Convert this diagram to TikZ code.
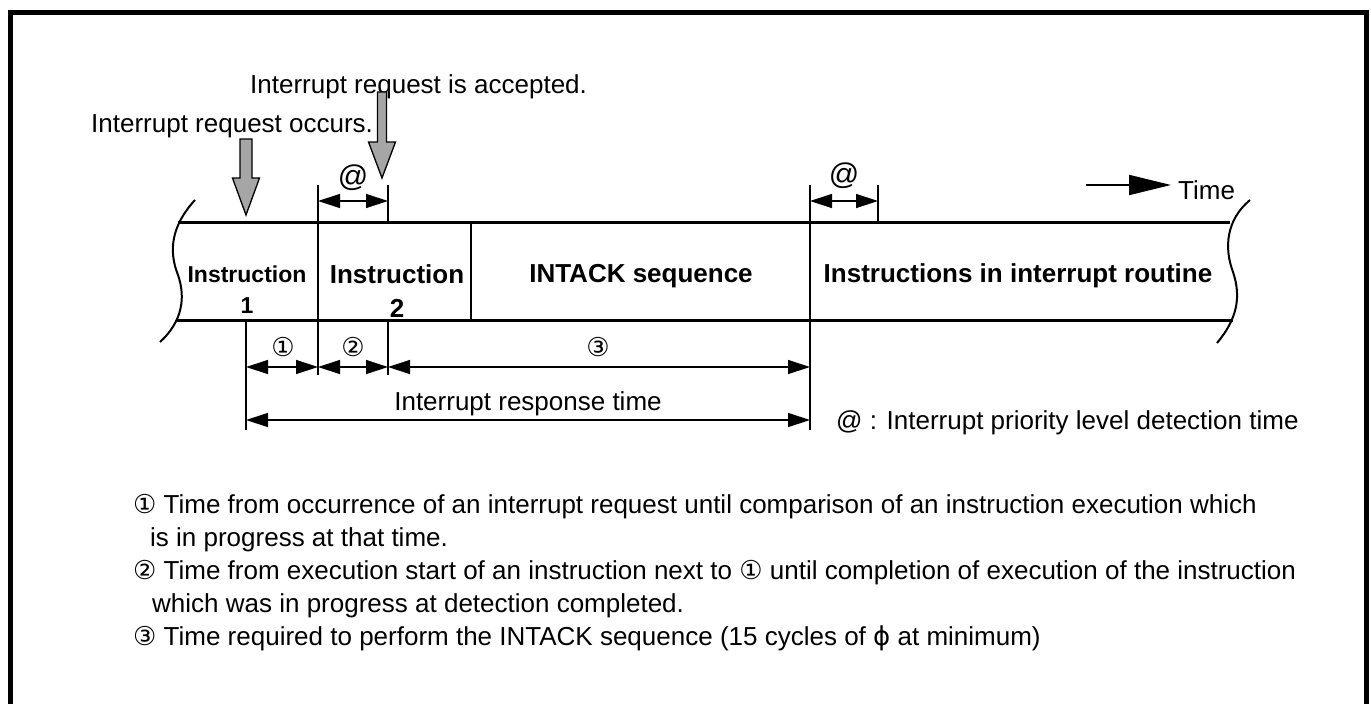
\documentclass[tikz,border=0pt]{standalone}
\usepackage{fontspec}
\setmainfont{Liberation Sans}
\newfontfamily\symfont{DejaVu Sans}
\usetikzlibrary{arrows.meta,positioning,calc}

\newcommand{\cnum}[1]{{\symfont\fontsize{26}{26}\selectfont #1}}

\begin{document}
\begin{tikzpicture}[x=1pt, y=-1pt,
  every node/.style={font=\fontsize{26}{33}\selectfont, inner sep=0pt},
  band/.style ={line width=3pt},
  sep/.style  ={line width=2pt},
  ext/.style  ={line width=1.3pt},
  wave/.style ={line width=2pt},
  dim/.style  ={line width=1.3pt,
                {Triangle[length=22pt,width=14pt]}-{Triangle[length=22pt,width=14pt]}},
  tarr/.style ={line width=2pt, -{Triangle[length=42pt,width=20pt]}},
  blk/.style  ={draw, line width=1.3pt, fill=black!35, line join=miter},
  cell/.style ={font=\fontsize{26}{34}\selectfont\bfseries, align=center, anchor=base},
  note/.style ={anchor=base west}
]
  \useasboundingbox (0,0) rectangle (1371,704);
  \draw[line width=5pt] (10.5,12.5) rectangle (1366.5,740);

  % time marks
  \coordinate (irq) at (246,0);
  \coordinate (cmp) at (318,0);
  \coordinate (acc) at (388,0);
  \coordinate (ack) at (471,0);
  \coordinate (isr) at (810,0);
  \coordinate (det) at (878,0);

  % band
  \draw[band] (178,222) -- (1230,222);
  \draw[band] (176,320) -- (1233,320);
  \draw[wave] (195,200) .. controls (172,225) and (168,250) .. (178,275)
                        .. controls (186,298) and (182,322) .. (160,342);
  \draw[wave] (1250,200) .. controls (1226,220) and (1224,248) .. (1233,272)
                         .. controls (1241,296) and (1238,318) .. (1217,343);
  \foreach \c in {cmp,ack,isr}
    \draw[sep] (\c |- 0,222) -- (\c |- 0,320);
  \foreach \c/\t/\b in {irq/320/430, cmp/185/375, acc/185/222, acc/320/375, isr/185/430, det/185/222}
    \draw[ext] (\c |- 0,\t) -- (\c |- 0,\b);

  \node[cell, font=\fontsize{23}{31}\selectfont\bfseries] (ins1) at (247,313) {Instruction\\1};
  \node[cell] (ins2) at (397,317) {Instruction\\2};
  \node[cell] (intack) at (641,282) {INTACK sequence};
  \node[cell] (rout) at (1018,282) {Instructions in interrupt routine};

  % requests
  \node[anchor=base west] (accd) at (250,93) {Interrupt request is accepted.};
  \node[anchor=base west] (occd) at (91,132) {Interrupt request occurs.};
  \coordinate (occtip) at (246,215);
  \coordinate (acctip) at (382,178);
  \draw[blk] (occtip) -- ++(-13.5,-37) -- ++(7.5,0) -- ++(0,-39) -- ++(12,0)
             -- ++(0,39) -- ++(7.5,0) -- cycle;
  \draw[blk] (acctip) -- ++(-13.5,-36) -- ++(9,0) -- ++(0,-50) -- ++(9,0)
             -- ++(0,50) -- ++(9,0) -- cycle;

  % detection time
  \node[font=\fontsize{30}{30}\selectfont] (at1) at (353,178) {@};
  \node[font=\fontsize{30}{30}\selectfont] (at2) at (844,176) {@};
  \draw[dim] (cmp |- 0,201) -- (acc |- 0,201);
  \draw[dim] (isr |- 0,201) -- (det |- 0,201);

  \node[anchor=base west] (time) at (1178,199) {Time};
  \coordinate (tfrom) at (1086,185);
  \draw[tarr, shorten >=7pt] (tfrom) -- (tfrom -| time.west);

  % response
  \node (n1) at (283,347) {\cnum{①}};
  \node (n2) at (353,347) {\cnum{②}};
  \node (n3) at (598,347) {\cnum{③}};
  \draw[dim] (irq |- 0,367) -- (cmp |- 0,367);
  \draw[dim] (cmp |- 0,367) -- (acc |- 0,367);
  \draw[dim] (acc |- 0,367) -- (isr |- 0,367);
  \node[anchor=base] (resp) at (528,410) {Interrupt response time};
  \draw[dim] (irq |- 0,420) -- (isr |- 0,420);
  \node[anchor=base west] (legend) at (836,429) {@ : Interrupt priority level detection time};

  % notes
  \node[note] (note1) at (133,513) {\cnum{①} Time from occurrence of an interrupt request until comparison of an instruction execution which};
  \node[note] (note1b) at (150,546) {is in progress at that time.};
  \node[note] (note2) at (133,579) {\cnum{②} Time from execution start of an instruction next to \cnum{①} until completion of execution of the instruction};
  \node[note] (note2b) at (152,612) {which was in progress at detection completed.};
  \node[note] (note3) at (133,645) {\cnum{③} Time required to perform the INTACK sequence (15 cycles of {\symfont ϕ} at minimum)};
\end{tikzpicture}
\end{document}
